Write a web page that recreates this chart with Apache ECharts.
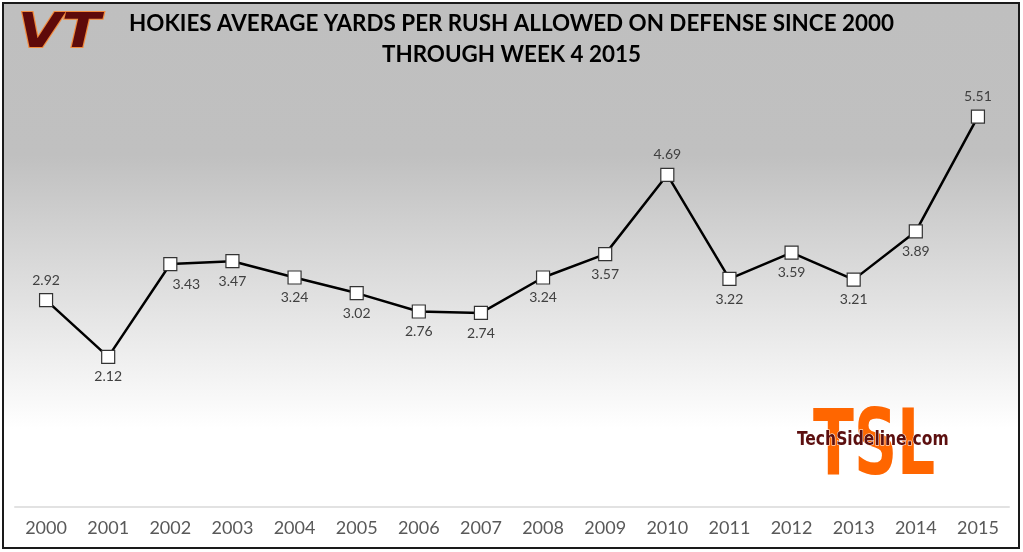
<!DOCTYPE html>
<html>
<head>
<meta charset="utf-8">
<script src="https://cdn.jsdelivr.net/npm/echarts@6/dist/echarts.min.js"></script>
<style>
    html, body { margin: 0; padding: 0; background: #fff; }
    #chart { width: 1023px; height: 552px; }
</style>
</head>
<body>
<div id="chart"></div>
<script>
// data
let years = ['2000', '2001', '2002', '2003', '2004', '2005', '2006', '2007',
    '2008', '2009', '2010', '2011', '2012', '2013', '2014', '2015']
let ypr = [2.92, 2.12, 3.43, 3.47, 3.24, 3.02, 2.76, 2.74,
    3.24, 3.57, 4.69, 3.22, 3.59, 3.21, 3.89, 5.51]
// which labels sit above the point
let labelTop = ['2000', '2010', '2015']

let myChart = echarts.init(document.getElementById('chart'))
let font = 'Lato, "Open Sans", sans-serif'

let option = {
    animation: false,
    graphic: [
        {
            // background with fade
            type: 'rect',
            z: -10,
            shape: { x: 3, y: 3, width: 1016, height: 545 },
            style: {
                fill: new echarts.graphic.LinearGradient(0, 0, 0, 1, [
                    { offset: 0, color: '#bfbfbf' },
                    { offset: 0.28, color: '#c0c0c0' },
                    { offset: 0.78, color: '#ffffff' },
                    { offset: 1, color: '#ffffff' }
                ]),
                stroke: '#1a1a1a',
                lineWidth: 2
            }
        },
        {
            // VT logo
            type: 'text',
            x: 18,
            y: 11,
            scaleX: 1.18,
            style: {
                text: 'VT',
                font: 'italic 900 48px "DejaVu Sans", sans-serif',
                fill: '#5e0a0a',
                stroke: '#f28a3c',
                lineWidth: 2,
                textVerticalAlign: 'top'
            }
        },
        {
            // TSL logo
            type: 'text',
            x: 813,
            y: 406,
            scaleX: 0.74,
            style: {
                text: 'TSL',
                font: 'bold 90px "DejaVu Sans Condensed", "Liberation Sans Narrow", sans-serif',
                fill: '#ff6600',
                textVerticalAlign: 'top'
            }
        },
        {
            type: 'text',
            x: 797,
            y: 431,
            scaleX: 0.91,
            style: {
                text: 'TechSideline.com',
                font: 'bold 19px "DejaVu Sans Condensed", sans-serif',
                fill: '#5c0f0f',
                stroke: '#ffffff',
                lineWidth: 1,
                textVerticalAlign: 'top'
            }
        }
    ],
    title: {
        text: 'HOKIES AVERAGE YARDS PER RUSH ALLOWED ON DEFENSE SINCE 2000\nTHROUGH WEEK 4 2015',
        left: 'center',
        top: 3,
        textStyle: {
            fontFamily: font,
            fontWeight: 'bold',
            fontSize: 22.4,
            lineHeight: 31,
            color: '#000'
        }
    },
    grid: {
        left: 15,
        right: 14,
        top: 82,
        bottom: 45
    },
    xAxis: {
        type: 'category',
        data: years,
        boundaryGap: true,
        axisTick: { show: false },
        axisLine: { lineStyle: { color: '#e2e2e2', width: 2 } },
        axisLabel: {
            fontFamily: font,
            fontSize: 18,
            color: '#595959',
            margin: 12
        }
    },
    yAxis: {
        type: 'value',
        min: 0,
        max: 6,
        show: false
    },
    series: [
        {
            name: 'YPR',
            type: 'line',
            data: ypr.map((v, i) => ({
                value: v,
                label: {
                    position: labelTop.includes(years[i]) ? 'top' : 'bottom',
                    offset: years[i] === '2002' ? [16, 0] : [0, 0]
                }
            })),
            symbol: 'rect',
            symbolSize: 13,
            itemStyle: {
                color: '#ffffff',
                borderColor: '#333333',
                borderWidth: 1.2
            },
            lineStyle: {
                color: '#000000',
                width: 2.5
            },
            label: {
                show: true,
                distance: 6,
                fontFamily: font,
                fontSize: 14,
                color: '#404040',
                formatter: p => p.value.toFixed(2)
            }
        }
    ]
}
myChart.setOption(option)
</script>
</body>
</html>
